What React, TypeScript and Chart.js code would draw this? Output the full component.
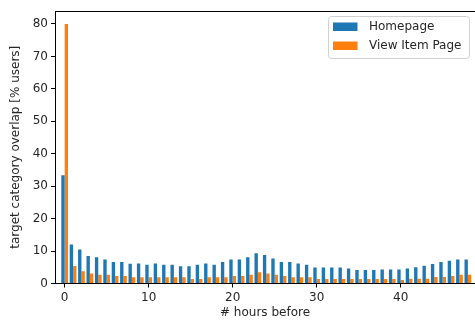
import React, { useEffect, useRef } from "react";
import { Chart, registerables } from "chart.js";

Chart.register(...registerables);

const hours: number[] = Array.from({ length: 49 }, (_, i) => i);

const homepage: number[] = [
  33.4, 12.0, 10.5, 8.5, 8.1, 7.4, 6.6, 6.6, 6.1, 6.2,
  5.8, 6.2, 5.8, 5.8, 5.3, 5.3, 5.8, 6.2, 5.8, 6.6,
  7.4, 7.4, 8.1, 9.3, 8.8, 7.7, 6.6, 6.6, 6.2, 5.8,
  4.9, 4.9, 4.9, 4.9, 4.6, 4.2, 4.2, 4.2, 4.3, 4.3,
  4.3, 4.6, 5.0, 5.5, 6.0, 6.6, 7.0, 7.4, 7.4,
];

const viewItemPage: number[] = [
  80.0, 5.4, 3.8, 3.1, 2.7, 2.7, 2.3, 2.3, 1.9, 1.9,
  1.9, 1.9, 1.9, 1.9, 1.9, 1.4, 1.4, 1.9, 1.9, 1.9,
  2.3, 2.3, 2.7, 3.5, 3.1, 2.7, 2.3, 1.9, 1.9, 1.9,
  1.4, 1.4, 1.4, 1.4, 1.4, 1.4, 1.4, 1.4, 1.4, 1.4,
  1.1, 1.5, 1.5, 1.5, 2.0, 2.0, 2.3, 2.7, 2.7,
];

const seriesLabels: string[] = ["Homepage", "View Item Page"];
const xTickValues: number[] = [0, 10, 20, 30, 40];
const yTickValues: number[] = [0, 10, 20, 30, 40, 50, 60, 70, 80];

const BLUE = "#1f77b4";
const ORANGE = "#ff7f0e";
const FONT = "'DejaVu Sans', sans-serif";
const TEXT = "#262626";

const framePlugin = {
  id: "frameAndLegend",
  afterDraw(chart: any) {
    const { ctx, chartArea } = chart;
    ctx.save();
    // top spine
    ctx.strokeStyle = "#000";
    ctx.lineWidth = 1;
    ctx.beginPath();
    ctx.moveTo(chartArea.left, chartArea.top + 0.5);
    ctx.lineTo(chartArea.right, chartArea.top + 0.5);
    ctx.stroke();

    // legend
    const bx = 328.5, by = 16.5, bw = 141, bh = 42, r = 3;
    ctx.fillStyle = "rgba(255,255,255,0.8)";
    ctx.strokeStyle = "#d0d0d0";
    ctx.beginPath();
    ctx.moveTo(bx + r, by);
    ctx.lineTo(bx + bw - r, by);
    ctx.arcTo(bx + bw, by, bx + bw, by + r, r);
    ctx.lineTo(bx + bw, by + bh - r);
    ctx.arcTo(bx + bw, by + bh, bx + bw - r, by + bh, r);
    ctx.lineTo(bx + r, by + bh);
    ctx.arcTo(bx, by + bh, bx, by + bh - r, r);
    ctx.lineTo(bx, by + r);
    ctx.arcTo(bx, by, bx + r, by, r);
    ctx.closePath();
    ctx.fill();
    ctx.stroke();

    const datasets = chart.data.datasets;
    const rows = [27, 46];
    ctx.font = `12px ${FONT}`;
    ctx.textBaseline = "middle";
    ctx.textAlign = "left";
    datasets.forEach((ds: any, i: number) => {
      const cy = rows[i];
      ctx.fillStyle = ds.backgroundColor;
      ctx.fillRect(333, cy - 4.5, 24.5, 8.5);
      ctx.fillStyle = TEXT;
      ctx.fillText(ds.label, 369, cy);
    });
    ctx.restore();
  },
};

export default function App() {
  const canvasRef = useRef<HTMLCanvasElement | null>(null);

  useEffect(() => {
    if (!canvasRef.current) return;
    Chart.defaults.font.family = FONT;
    const chart = new Chart(canvasRef.current, {
      type: "bar",
      data: {
        datasets: [
          {
            label: seriesLabels[0],
            data: hours.map((h, i) => ({ x: h, y: homepage[i] })),
            backgroundColor: BLUE,
            borderWidth: 0,
            categoryPercentage: 0.8,
            barPercentage: 1.0,
          },
          {
            label: seriesLabels[1],
            data: hours.map((h, i) => ({ x: h, y: viewItemPage[i] })),
            backgroundColor: ORANGE,
            borderWidth: 0,
            categoryPercentage: 0.8,
            barPercentage: 1.0,
          },
        ],
      },
      options: {
        animation: false,
        responsive: false,
        maintainAspectRatio: false,
        layout: { padding: { top: 11, right: 0, left: 0, bottom: 0 } },
        plugins: {
          legend: { display: false },
          tooltip: { enabled: false },
        },
        scales: {
          x: {
            type: "linear",
            min: -1.15,
            max: 48.85,
            offset: false,
            grid: {
              offset: false,
              drawOnChartArea: false,
              drawTicks: true,
              tickLength: 4,
              color: "#000",
            },
            border: { display: true, color: "#000", width: 1 },
            afterBuildTicks: (scale: any) => {
              scale.ticks = xTickValues.map((v) => ({ value: v }));
            },
            ticks: {
              color: TEXT,
              font: { size: 12, family: FONT },
              padding: 3,
              maxRotation: 0,
              autoSkip: false,
            },
            title: {
              display: true,
              text: "# hours before",
              color: TEXT,
              font: { size: 12, family: FONT },
              padding: { top: 1, bottom: 0 },
            },
            afterFit: (scale: any) => {
              scale.height = 36.5;
            },
          },
          y: {
            type: "linear",
            min: 0,
            max: 84,
            grid: {
              drawOnChartArea: false,
              drawTicks: true,
              tickLength: 4,
              color: "#000",
            },
            border: { display: true, color: "#000", width: 1 },
            afterBuildTicks: (scale: any) => {
              scale.ticks = yTickValues.map((v) => ({ value: v }));
            },
            ticks: {
              color: TEXT,
              font: { size: 12, family: FONT },
              padding: 3,
            },
            title: {
              display: true,
              text: "target category overlap [% users]",
              color: TEXT,
              font: { size: 12, family: FONT },
              padding: { top: 9, bottom: 0 },
            },
            afterFit: (scale: any) => {
              scale.width = 55;
            },
          },
        },
      },
      plugins: [framePlugin],
    });
    return () => chart.destroy();
  }, []);

  return (
    <div style={{ position: "fixed", left: 0, top: 0, width: 475, height: 320, background: "#fff" }}>
      <canvas ref={canvasRef} width={475} height={320} style={{ display: "block" }} />
    </div>
  );
}
